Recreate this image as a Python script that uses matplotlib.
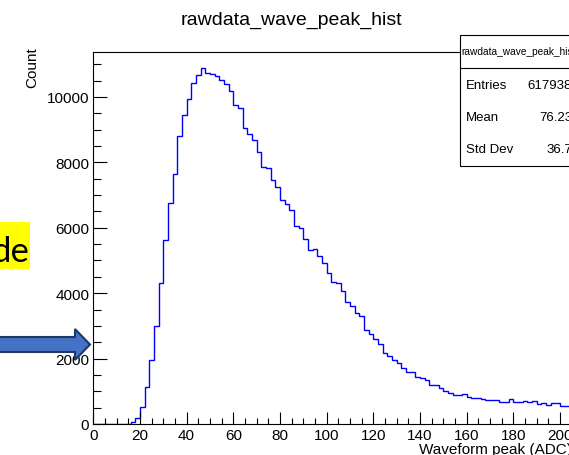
import matplotlib
matplotlib.use("Agg")
import matplotlib.pyplot as plt
import numpy as np
from matplotlib.ticker import MultipleLocator
from matplotlib.patches import Rectangle, Polygon

plt.rcParams['font.family'] = ['Liberation Sans', 'DejaVu Sans']

# histogram: 2 ADC wide bins starting at 0
bin_width = 2
counts = [0, 0, 0, 0, 0, 0, 0,
          15, 50, 180, 510, 1120, 1960, 3000, 4300, 5620, 6750,
          7640, 8810, 9440, 9930, 10420, 10670, 10880, 10720, 10690, 10630,
          10510, 10390, 10170, 9750, 9650, 9040, 8860, 8690, 8310, 7850,
          7820, 7450, 7240, 6860, 6720, 6540, 6040, 5990, 5660, 5310,
          5340, 5130, 4910, 4610, 4330, 4300, 4060, 3720, 3600, 3390,
          3290, 2870, 2740, 2590, 2460, 2170, 2070, 1960, 1860, 1710,
          1580, 1580, 1430, 1400, 1350, 1190, 1190, 1110, 1000, 940,
          880, 880, 910, 830, 790, 790, 755, 725, 725, 725,
          660, 660, 755, 660, 660, 695, 660, 695, 600, 635,
          570, 635, 635, 540, 540, 540]
edges = np.arange(len(counts) + 1) * bin_width

title = "rawdata_wave_peak_hist"
stats_names = ["Entries", "Mean", "Std Dev"]
stats_values = ["617938", "76.23", "36.7"]

W, H = 569, 456
fig = plt.figure(figsize=(W / 100, H / 100), dpi=100)


def fx(x):
    return x / W


def fy(y):
    return 1 - y / H


# axes frame: x=0 at px 93.3, 2.333 px per ADC, y=0 at px 425
xmax = 205
ax = fig.add_axes([fx(93.3), fy(425), xmax * 2.333 / W, (425 - 53) / H])
ax.stairs(counts, edges, color='#0000ff', linewidth=1.0, baseline=0)
ax.set_xlim(0, xmax)
ax.set_ylim(0, 11376)

ax.xaxis.set_major_locator(MultipleLocator(20))
ax.xaxis.set_minor_locator(MultipleLocator(5))
ax.yaxis.set_major_locator(MultipleLocator(2000))
ax.yaxis.set_minor_locator(MultipleLocator(500))
ax.tick_params(axis='both', which='both', direction='in', width=0.8,
               labelsize=11, top=False, right=False)
ax.tick_params(axis='x', which='major', length=9, pad=3)
ax.tick_params(axis='x', which='minor', length=4.5)
ax.tick_params(axis='y', which='major', length=10, pad=3)
ax.tick_params(axis='y', which='minor', length=5.5)
for s in ax.spines.values():
    s.set_linewidth(0.8)

fig.text(fx(291), fy(20), title, fontsize=14, ha='center', va='center')
fig.text(fx(32), fy(47), "Count", fontsize=11, rotation=90,
         ha='center', va='top')
fig.text(fx(572), fy(450), "Waveform peak (ADC)", fontsize=11,
         ha='right', va='center')

# stats box
box = Rectangle((fx(460), fy(167)), fx(130), (167 - 36) / H,
                transform=fig.transFigure, facecolor='white',
                edgecolor='black', linewidth=0.8, zorder=5)
fig.patches.append(box)
fig.lines.append(plt.Line2D([fx(460), fx(600)], [fy(69), fy(69)],
                            transform=fig.transFigure, color='black',
                            linewidth=0.8, zorder=6))
fig.text(fx(461), fy(52), title, fontsize=7.3, ha='left', va='center', zorder=7)
for i, (name, val) in enumerate(zip(stats_names, stats_values)):
    yy = 86 + i * 32
    fig.text(fx(466), fy(yy), name, fontsize=9.5, ha='left', va='center', zorder=7)
    fig.text(fx(572), fy(yy), val, fontsize=9.5, ha='right', va='center', zorder=7)

# slide overlay: yellow highlight and arrow
fig.patches.append(Rectangle((0, fy(270)), fx(30), (270 - 223) / H,
                             transform=fig.transFigure, facecolor='#ffff00',
                             edgecolor='none', zorder=4))
fig.text(fx(29), fy(262), "de", fontsize=25, family=['Lato', 'DejaVu Sans'],
         ha='right', va='baseline', zorder=5)
arrow_pts = [(-5, 338), (75, 338), (75, 330), (90, 345.5),
             (75, 361), (75, 353), (-5, 353)]
fig.patches.append(Polygon([(fx(a), fy(b)) for a, b in arrow_pts], closed=True,
                           transform=fig.transFigure, facecolor='#4472c4',
                           edgecolor='#1f3864', linewidth=1.5, zorder=5))

fig.savefig("out.png", dpi=100)
